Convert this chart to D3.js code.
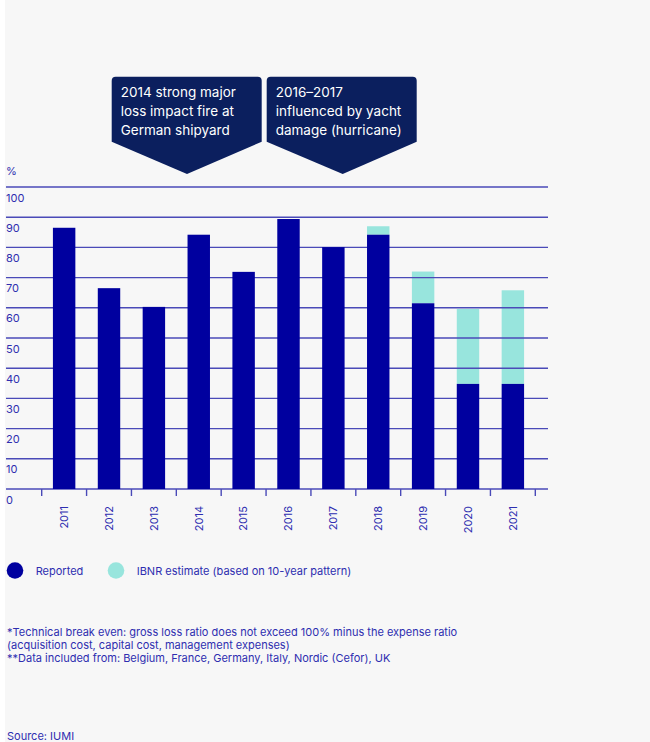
<!DOCTYPE html>
<html>
<head>
<meta charset="utf-8">
<script src="https://cdn.jsdelivr.net/npm/d3@7"></script>
<style>
  html, body { margin: 0; padding: 0; background: #ffffff; }
  svg { display: block; }
  text { font-family: Inter, Roboto, "Noto Sans", sans-serif; }
</style>
</head>
<body>
<script>
const years = ['2011','2012','2013','2014','2015','2016','2017','2018','2019','2020','2021'];
const reported = [86.5, 66.5, 60.3, 84.2, 71.9, 89.4, 80.1, 84.2, 61.5, 34.8, 34.8];
const ibnr =     [0, 0, 0, 0, 0, 0, 0, 2.8, 10.5, 24.8, 31.0];
const yTicks = [0, 10, 20, 30, 40, 50, 60, 70, 80, 90, 100];
const legendItems = ['Reported', 'IBNR estimate (based on 10-year pattern)'];
const callouts = [
  ['2014 strong major', 'loss impact fire at', 'German shipyard'],
  ['2016\u20132017', 'influenced by yacht', 'damage (hurricane)']
];
const footnotes = [
  '*Technical break even: gross loss ratio does not exceed 100% minus the expense ratio',
  '(acquisition cost, capital cost, management expenses)',
  '**Data included from: Belgium, France, Germany, Italy, Nordic (Cefor),  UK'
];
const source = 'Source: IUMI';

const W = 650, H = 742;
const C = { dark: '#00009f', teal: '#98e5dd', grid: '#4a4ab8', text: '#2e2eb0', navy: '#0b1f5e', bg: '#f7f7f7' };

const svg = d3.select('body').append('svg').attr('width', W).attr('height', H);
svg.append('rect').attr('x', 5).attr('y', 0).attr('width', W - 5).attr('height', H).attr('fill', C.bg);

const x = d3.scaleBand().domain(years).range([41.7, 535.3]).paddingInner(0.5).paddingOuter(0.25);
const y = d3.scaleLinear().domain([0, 100]).range([489, 187]);

const data = years.map((yr, i) => ({ yr, rep: reported[i], ib: ibnr[i] }));

// IBNR (under gridlines)
svg.append('g').selectAll('rect').data(data.filter(d => d.ib > 0)).join('rect')
  .attr('x', d => x(d.yr)).attr('width', x.bandwidth())
  .attr('y', d => y(d.rep + d.ib)).attr('height', d => y(d.rep) - y(d.rep + d.ib))
  .attr('fill', C.teal);

// gridlines
svg.append('g').selectAll('line').data(yTicks).join('line')
  .attr('x1', 6).attr('x2', 548).attr('y1', d => y(d)).attr('y2', d => y(d))
  .attr('stroke', C.grid).attr('stroke-width', 1.4);

// reported bars
svg.append('g').selectAll('rect').data(data).join('rect')
  .attr('x', d => x(d.yr)).attr('width', x.bandwidth())
  .attr('y', d => y(d.rep)).attr('height', d => y(0) - y(d.rep))
  .attr('fill', C.dark);

// y labels (below each gridline)
svg.append('g').selectAll('text').data(yTicks).join('text')
  .attr('x', 6).attr('y', d => y(d) + 14.5)
  .attr('font-size', 11).attr('fill', C.text).text(d => d);
svg.append('text').attr('x', 6).attr('y', 175).attr('font-size', 11).attr('fill', C.text).text('%');

// boundary ticks
const step = x.step();
const r0 = x.range()[0];
svg.append('g').selectAll('line').data(d3.range(years.length + 1)).join('line')
  .attr('x1', i => r0 + i * step).attr('x2', i => r0 + i * step)
  .attr('y1', 489).attr('y2', 496).attr('stroke', C.grid).attr('stroke-width', 1.4);

// x axis labels
const xAxis = d3.axisBottom(x).tickSize(0).tickPadding(0);
const gx = svg.append('g').attr('transform', 'translate(0,489)').call(xAxis);
gx.select('.domain').remove();
gx.selectAll('text')
  .attr('transform', 'rotate(-90)')
  .attr('x', -17).attr('y', 0).attr('dy', '0.35em')
  .attr('text-anchor', 'end')
  .attr('font-size', 11).attr('font-family', 'Inter, Roboto, sans-serif').attr('fill', C.text);

// callouts
const boxes = [{ x0: 111.7, x1: 261.7, tip: 187 }, { x0: 266.7, x1: 416.7, tip: 342.7 }];
boxes.forEach((b, i) => {
  const top = 76.7, bot = 141.7, tipY = 174, r = 4;
  const p = d3.path();
  p.moveTo(b.x0 + r, top);
  p.lineTo(b.x1 - r, top);
  p.quadraticCurveTo(b.x1, top, b.x1, top + r);
  p.lineTo(b.x1, bot);
  p.lineTo(b.tip, tipY);
  p.lineTo(b.x0, bot);
  p.lineTo(b.x0, top + r);
  p.quadraticCurveTo(b.x0, top, b.x0 + r, top);
  p.closePath();
  svg.append('path').attr('d', p.toString()).attr('fill', C.navy);
  svg.append('g').selectAll('text').data(callouts[i]).join('text')
    .attr('x', b.x0 + 9).attr('y', (d, j) => 97 + j * 19)
    .attr('font-size', 13.5).attr('fill', '#ffffff').text(d => d);
});

// legend
const lg = svg.append('g');
[[15, C.dark, 35.7], [116, C.teal, 136.7]].forEach((l, i) => {
  lg.append('circle').attr('cx', l[0]).attr('cy', 570.5).attr('r', 8.3).attr('fill', l[1]);
  lg.append('text').attr('x', l[2]).attr('y', 574.5).attr('font-size', 11).attr('fill', C.text).text(legendItems[i]);
});

// footnotes
svg.append('g').selectAll('text').data(footnotes).join('text')
  .attr('x', 7).attr('y', (d, i) => [635.5, 648.5, 662][i])
  .attr('font-size', 11).attr('fill', C.text).text(d => d);
svg.append('text').attr('x', 7).attr('y', 740).attr('font-size', 11).attr('fill', C.text).text(source);
</script>
</body>
</html>
